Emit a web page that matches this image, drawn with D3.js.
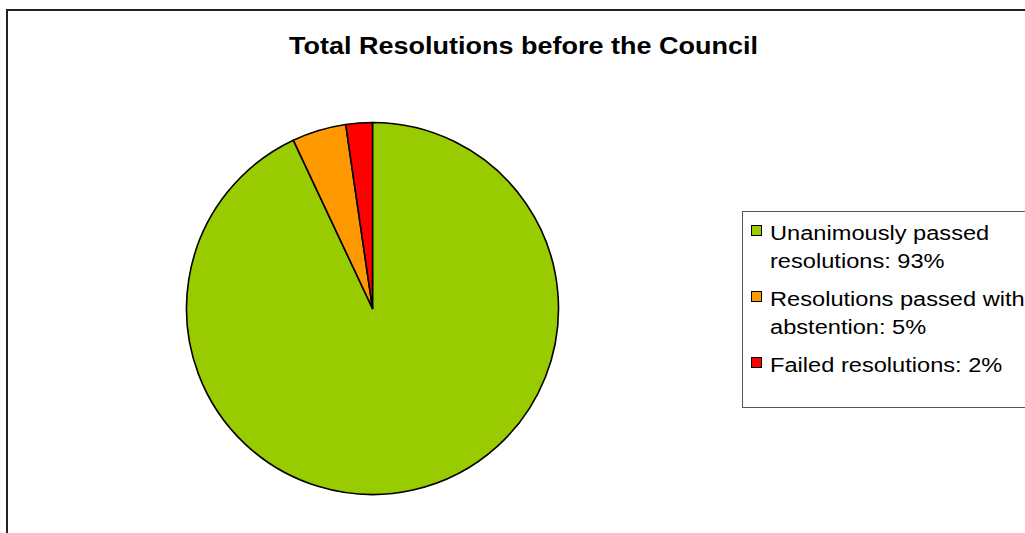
<!DOCTYPE html>
<html>
<head>
<meta charset="utf-8">
<script src="https://cdn.jsdelivr.net/npm/d3@7"></script>
<style>
  html, body { margin: 0; padding: 0; background: #fff; }
  svg { display: block; }
</style>
</head>
<body>
<svg id="chart" width="1025" height="533"></svg>
<script>
const title = "Total Resolutions before the Council";
const categories = ["Unanimously passed resolutions", "Resolutions passed with abstention", "Failed resolutions"];
const values = [93, 4.7, 2.3];
const legendLines = [
  ["Unanimously passed", "resolutions: 93%"],
  ["Resolutions passed with", "abstention: 5%"],
  ["Failed resolutions: 2%"]
];
const colors = ["#99CC00", "#FF9900", "#FF0000"];

const svg = d3.select("#chart");
const font = "'Liberation Sans', Arial, sans-serif";
const stretch = 1.125;

// outer chart border
svg.append("rect")
  .attr("x", 7).attr("y", 10)
  .attr("width", 1100).attr("height", 600)
  .attr("fill", "#fff")
  .attr("stroke", "#222").attr("stroke-width", 2);

// title
svg.append("text")
  .attr("transform", `translate(523.5,54) scale(${stretch},1)`)
  .attr("text-anchor", "middle")
  .attr("font-family", font)
  .attr("font-weight", "bold")
  .attr("font-size", 24)
  .attr("fill", "#000")
  .text(title);

// pie
const cx = 372.5, cy = 308.5, r = 186;
const color = d3.scaleOrdinal().domain(categories).range(colors);
const pie = d3.pie().sort(null).value(d => d.v);
const arcs = pie(categories.map((c, i) => ({ c, v: values[i] })));
const arc = d3.arc().innerRadius(0).outerRadius(r);

svg.append("g")
  .attr("transform", `translate(${cx},${cy})`)
  .selectAll("path")
  .data(arcs)
  .join("path")
  .attr("d", arc)
  .attr("fill", d => color(d.data.c))
  .attr("stroke", "#000")
  .attr("stroke-width", 1.6)
  .attr("stroke-linejoin", "round");

// legend
const lg = svg.append("g");
lg.append("rect")
  .attr("x", 742.5).attr("y", 211.5)
  .attr("width", 400).attr("height", 196)
  .attr("fill", "#fff")
  .attr("stroke", "#555").attr("stroke-width", 1);

const itemTops = [240, 306, 372];
const lineGap = 28;
categories.forEach((c, i) => {
  const base = itemTops[i];
  lg.append("rect")
    .attr("x", 751.5).attr("y", base - 14.5)
    .attr("width", 10).attr("height", 10)
    .attr("fill", color(c))
    .attr("stroke", "#000").attr("stroke-width", 1);
  legendLines[i].forEach((t, j) => {
    lg.append("text")
      .attr("transform", `translate(770,${base + j * lineGap}) scale(${stretch},1)`)
      .attr("font-family", font)
      .attr("font-size", 21)
      .attr("fill", "#000")
      .text(t);
  });
});
</script>
</body>
</html>
